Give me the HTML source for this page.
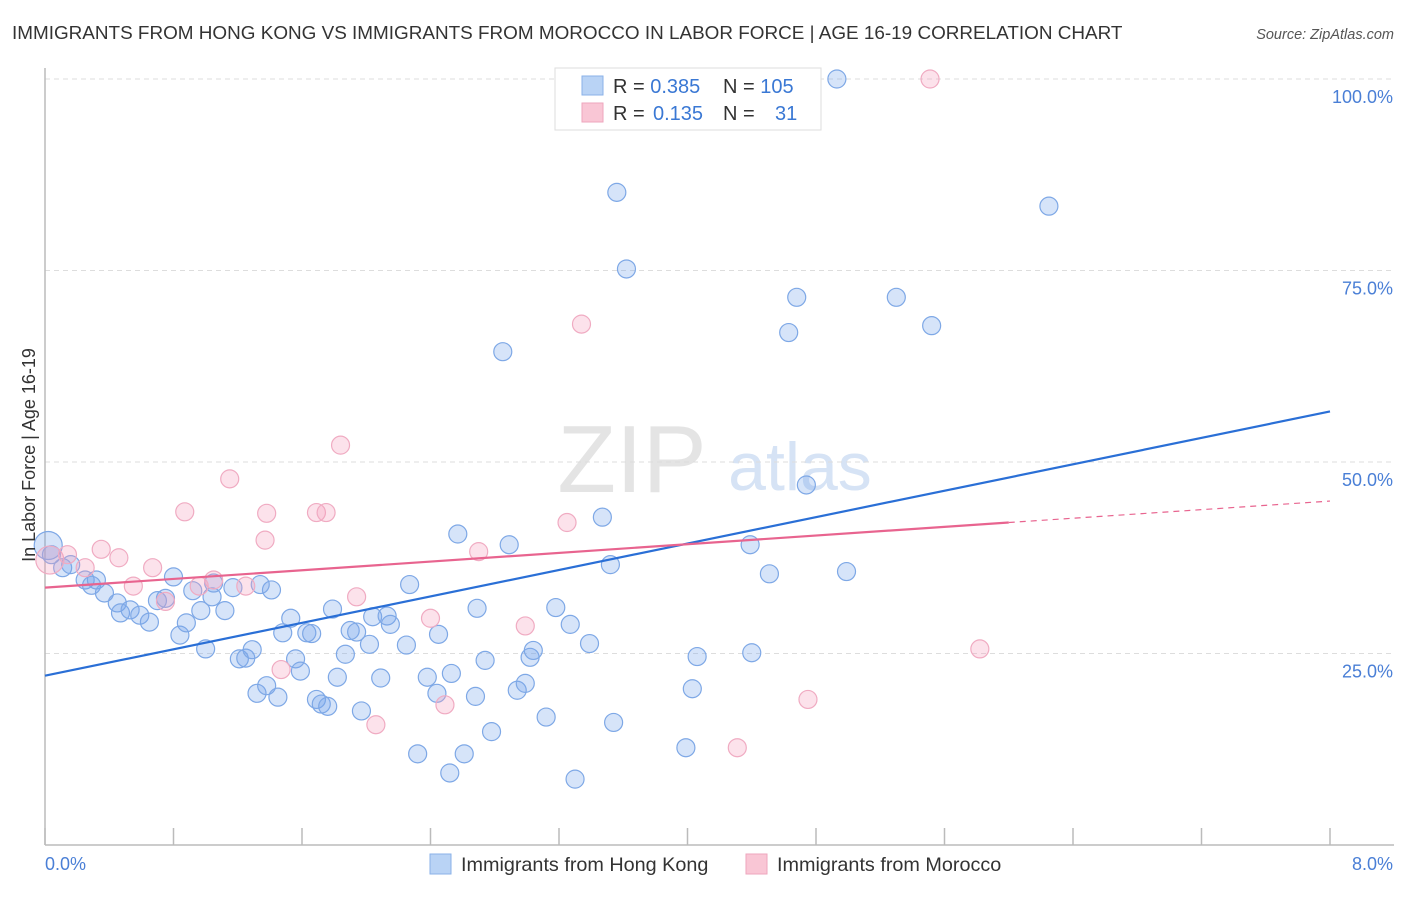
<!DOCTYPE html>
<html><head><meta charset="utf-8"><style>
body{margin:0;background:#fff;font-family:"Liberation Sans",sans-serif;}
svg text{font-family:"Liberation Sans",sans-serif;}
</style></head><body>
<svg id="chart" width="1406" height="892" xmlns="http://www.w3.org/2000/svg">
<text x="12" y="39" font-size="18.9" fill="#333">IMMIGRANTS FROM HONG KONG VS IMMIGRANTS FROM MOROCCO IN LABOR FORCE | AGE 16-19 CORRELATION CHART</text>
<text x="1394" y="39" font-size="14.5" fill="#555" font-style="italic" text-anchor="end">Source: ZipAtlas.com</text>
<text x="632" y="492" font-size="96" fill="#e4e4e4" font-family="Liberation Serif" text-anchor="middle">ZIP</text>
<text x="800" y="490" font-size="68" fill="#d6e3f5" text-anchor="middle">atlas</text>
<g id="grid"></g>
<g id="axes"></g>
<g id="marks"></g>
<text x="35" y="455" font-size="18" fill="#333" text-anchor="middle" transform="rotate(-90 35 455)">In Labor Force | Age 16-19</text>
<text x="45" y="870" font-size="18" fill="#4a7fd6">0.0%</text>
<text x="1393" y="870" font-size="18" fill="#4a7fd6" text-anchor="end">8.0%</text>
<g>
<rect x="555" y="68" width="266" height="62" fill="#fff" stroke="#ddd"/>
<rect x="582" y="76" width="21" height="19" fill="#b9d3f5" stroke="#8ab2e8"/>
<rect x="582" y="103" width="21" height="19" fill="#f9c6d5" stroke="#eea6bd"/>
<text x="613" y="93" font-size="20" fill="#333">R = <tspan fill="#3a78d4">0.385</tspan><tspan x="723">N = </tspan><tspan fill="#3a78d4">105</tspan></text>
<text x="613" y="120" font-size="20" fill="#333">R = <tspan x="653" fill="#3a78d4">0.135</tspan><tspan x="723">N = </tspan><tspan x="775" fill="#3a78d4">31</tspan></text>
</g>
<g>
<rect x="430" y="854" width="21" height="20" fill="#b9d3f5" stroke="#8ab2e8"/>
<text x="461" y="871" font-size="19.8" fill="#333">Immigrants from Hong Kong</text>
<rect x="746" y="854" width="21" height="20" fill="#f9c6d5" stroke="#eea6bd"/>
<text x="777" y="871" font-size="19.8" fill="#333">Immigrants from Morocco</text>
</g>
</svg>
<script>
const yTicks=[25,50,75,100];
const yTickLabels=["25.0%","50.0%","75.0%","100.0%"];
const xTicks=[0,0.8,1.6,2.4,3.2,4,4.8,5.6,6.4,7.2,8];
const hkX=[4.93,3.56,6.25,3.62,4.68,5.3,4.63,5.52,2.85,4.74,3.47,2.57,2.89,4.39,3.52,4.51,4.99,0.02,0.04,0.11,0.16,0.25,0.32,0.29,0.37,0.45,0.47,0.53,0.59,0.65,0.7,0.75,0.8,0.84,0.88,0.92,0.97,1,1.04,1.05,1.12,1.17,1.21,1.25,1.29,1.32,1.38,1.41,1.34,1.45,1.48,1.53,1.56,1.59,1.63,1.66,1.69,1.72,1.76,1.79,1.82,1.87,1.9,1.94,1.97,2.02,2.04,2.09,2.13,2.15,2.25,2.32,2.27,2.38,2.44,2.45,2.52,2.53,2.61,2.68,2.69,2.74,2.78,2.94,2.99,3.02,3.04,3.12,3.18,3.27,3.3,3.39,3.54,3.99,4.03,4.06,4.4];
const hkY=[100,85.2,83.4,75.2,71.5,71.5,66.9,67.8,64.4,47,42.8,40.6,39.2,39.2,36.6,35.4,35.7,39.1,37.9,36.2,36.6,34.6,34.6,33.9,32.9,31.6,30.3,30.7,30,29.1,31.9,32.2,35,27.4,29,33.2,30.6,25.6,32.4,34.2,30.6,33.6,24.3,24.4,25.5,19.8,20.8,33.3,34,19.3,27.7,29.6,24.3,22.7,27.7,27.6,19,18.4,18.1,30.8,21.9,24.9,28,27.8,17.5,26.2,29.8,21.8,29.9,28.8,26.1,11.9,34,21.9,19.8,27.5,9.4,22.4,11.9,19.4,30.9,24.1,14.8,20.2,21.1,24.5,25.4,16.7,31,28.8,8.6,26.3,16,12.7,20.4,24.6,25.1];
const moX=[5.51,3.34,1.84,1.15,0.87,1.69,1.75,1.38,3.25,1.37,0.35,0.46,0.03,0.14,0.25,0.67,1.05,1.25,0.55,0.75,1.94,2.7,2.4,2.99,1.47,2.49,2.06,4.75,4.31,5.82,0.96];
const moY=[100,68,52.2,47.8,43.5,43.4,43.4,43.3,42.1,39.8,38.6,37.5,37.2,37.9,36.2,36.2,34.6,33.8,33.8,31.8,32.4,38.3,29.6,28.6,22.9,18.3,15.7,19,12.7,25.6,33.8];
const hkLine=[0,22.1,8,56.6];
const moLine=[0,33.6,6.0,42.1];
const moLineExt=[6.0,42.1,8,44.9];
const NS="http://www.w3.org/2000/svg";
function sx(v){return 45+v/8*1285;}
function sy(v){return 845-v/100*766;}
function mk(tag,attrs,parent){const e=document.createElementNS(NS,tag);for(const k in attrs)e.setAttribute(k,attrs[k]);document.getElementById(parent).appendChild(e);return e;}
yTicks.forEach((t,i)=>{
 const l=mk('line',{x1:45,x2:1394,y1:sy(t),y2:sy(t),stroke:'#ddd','stroke-dasharray':'5,4'},'grid');
 
 
 const tx=mk('text',{x:1393,y:sy(t)+24,'font-size':18,fill:'#4a7fd6','text-anchor':'end'},'grid');
 tx.textContent=yTickLabels[i];
 
 
});
const topGrid=mk('line',{x1:45,x2:1394,y1:79,y2:79,stroke:'#ddd','stroke-dasharray':'5,4'},'grid');


const ya=mk('line',{x1:45,x2:45,y1:68,y2:845,stroke:'#bbb','stroke-width':1.5},'axes');


const xa=mk('line',{x1:45,x2:1394,y1:845,y2:845,stroke:'#bbb','stroke-width':1.5},'axes');


xTicks.forEach(t=>{
 const l=mk('line',{x1:sx(t),x2:sx(t),y1:828,y2:845,stroke:'#bbb','stroke-width':1.5},'axes');
 
 
});
hkX.forEach((x,i)=>{
 const c=mk('circle',{cx:sx(x),cy:sy(hkY[i]),r:9,fill:'rgba(120,165,235,0.3)',stroke:'#7ea8e6','stroke-width':1.2},'marks');
 if(i===17)c.setAttribute('r',14);
 
 
});
moX.forEach((x,i)=>{
 const c=mk('circle',{cx:sx(x),cy:sy(moY[i]),r:9,fill:'rgba(245,160,190,0.3)',stroke:'#f0abc2','stroke-width':1.2},'marks');
 if(i===12)c.setAttribute('r',14);
 
 
});
const bl=mk('line',{x1:sx(hkLine[0]),y1:sy(hkLine[1]),x2:sx(hkLine[2]),y2:sy(hkLine[3]),stroke:'#2a6fd6','stroke-width':2.2},'marks');


const pl=mk('line',{x1:sx(moLine[0]),y1:sy(moLine[1]),x2:sx(moLine[2]),y2:sy(moLine[3]),stroke:'#e8648f','stroke-width':2.2},'marks');


const pd=mk('line',{x1:sx(moLineExt[0]),y1:sy(moLineExt[1]),x2:sx(moLineExt[2]),y2:sy(moLineExt[3]),stroke:'#e8648f','stroke-width':1.2,'stroke-dasharray':'6,5'},'marks');


</script>
</body></html>
